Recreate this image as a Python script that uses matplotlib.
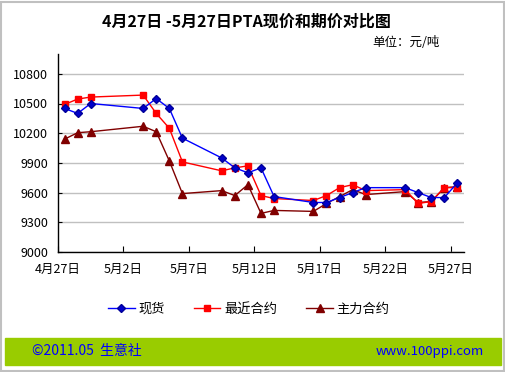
import numpy as np
import matplotlib
matplotlib.use("Agg")
import matplotlib.pyplot as plt
from matplotlib.patches import Rectangle
from datetime import datetime, timedelta

plt.rcParams['font.family'] = ['Noto Sans CJK SC', 'DejaVu Sans']

# trading days (2011)
dates = ["04-27", "04-28", "04-29", "05-03", "05-04", "05-05", "05-06",
         "05-09", "05-10", "05-11", "05-12", "05-13", "05-16", "05-17",
         "05-18", "05-19", "05-20", "05-23", "05-24", "05-25", "05-26", "05-27"]

spot = [10450, 10400, 10500, 10450, 10550, 10450, 10150,
        9950, 9850, 9800, 9850, 9560, 9500, 9500,
        9550, 9600, 9650, 9650, 9600, 9550, 9550, 9700]
nearest = [10490, 10545, 10565, 10585, 10400, 10250, 9910,
           9820, 9850, 9870, 9570, 9540, 9520, 9570,
           9650, 9680, 9620, 9630, 9490, 9510, 9650, 9650]
main = [10140, 10205, 10215, 10270, 10215, 9920, 9590,
        9620, 9570, 9680, 9390, 9420, 9410, 9490,
        9560, 9630, 9580, 9610, 9500, 9510, 9650, 9660]

tick_labels = ["4月27日", "5月2日", "5月7日", "5月12日", "5月17日", "5月22日", "5月27日"]
y_ticks = [9000, 9300, 9600, 9900, 10200, 10500, 10800]

# points sit in the middle of each day
x = [datetime.strptime("2011-" + d, "%Y-%m-%d") + timedelta(hours=12) for d in dates]
start = datetime(2011, 4, 27)
tick_pos = [start + timedelta(days=5 * i) for i in range(len(tick_labels))]

fig = plt.figure(figsize=(5.06, 3.72), dpi=100)
ax = fig.add_axes([58 / 506, 1 - 252 / 372, 406 / 506, 198 / 372])

ax.plot(x, spot, color="#0000ff", lw=1, marker="D", ms=4.3,
        mfc="#0000cc", mec="#000099", label="现货", zorder=4)
ax.plot(x, nearest, color="#ff0000", lw=1, marker="s", ms=4.8,
        mfc="#ff0000", mec="#ff0000", label="最近合约", zorder=3)
ax.plot(x, main, color="#800000", lw=1, marker="^", ms=5.5,
        mfc="#800000", mec="#800000", label="主力合约", zorder=2)

ax.set_xlim(start, datetime(2011, 5, 28))
ax.set_ylim(9000, 11000)
ax.set_yticks(y_ticks)
ax.set_xticks(tick_pos)
ax.set_xticklabels(tick_labels)
ax.yaxis.grid(True, color="#c0c0c0", lw=1)
ax.set_axisbelow(True)
for s in ["top", "right"]:
    ax.spines[s].set_visible(False)
for s in ["left", "bottom"]:
    ax.spines[s].set_color("black")
    ax.spines[s].set_linewidth(1)
ax.tick_params(axis="x", direction="in", length=4, labelsize=9, pad=8)
ax.tick_params(axis="y", direction="in", length=3, labelsize=9, pad=7)

fig.text(0.488, 1 - 22 / 372, "4月27日 -5月27日PTA现价和期价对比图",
         ha="center", va="center", fontsize=11.5, fontweight="bold")
fig.text(440 / 506, 1 - 43 / 372, "单位：元/吨", ha="right", va="center", fontsize=9)

fig.legend(loc="center", bbox_to_anchor=(0.492, 1 - 309 / 372), ncol=3, frameon=False,
           fontsize=9.5, handlelength=2.0, columnspacing=2.2, handletextpad=0.3)

# footer band and outer frame
fig.patches.append(Rectangle((5 / 506, 1 - 365 / 372), 496 / 506, 27 / 372,
                             transform=fig.transFigure, color="#99cc00", zorder=0))
fig.patches.append(Rectangle((1 / 506, 1 / 372), 503 / 506, 369 / 372, fill=False,
                             transform=fig.transFigure, edgecolor="#c0c0c0", lw=1.5))
fig.text(32 / 506, 1 - 351 / 372, "©2011.05  生意社", color="#0000ff",
         ha="left", va="center", fontsize=10)
fig.text(484 / 506, 1 - 351 / 372, "www.100ppi.com", color="#0000ff",
         ha="right", va="center", fontsize=9.5)

fig.savefig("out.png", dpi=100)
